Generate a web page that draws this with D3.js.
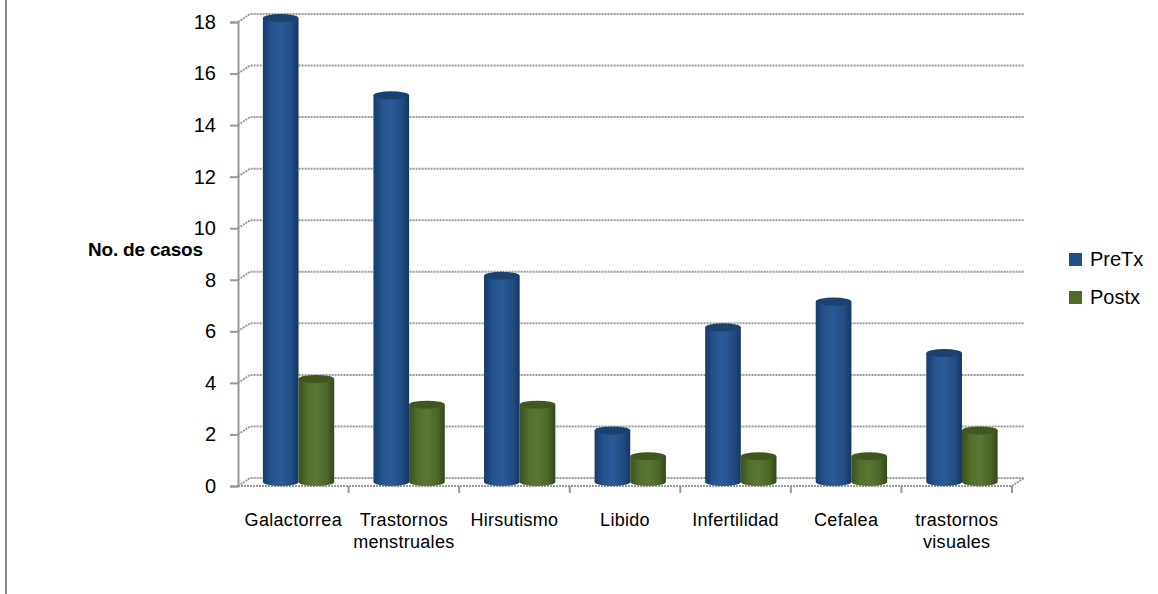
<!DOCTYPE html>
<html>
<head>
<meta charset="utf-8">
<script src="https://cdn.jsdelivr.net/npm/d3@7"></script>
<style>
  body { margin: 0; background: #fff; }
  text { font-family: "Liberation Sans", Arial, sans-serif; fill: #000; }
</style>
</head>
<body>
<div id="chart"></div>
<script>
// data
const categories = ["Galactorrea", "Trastornos menstruales", "Hirsutismo", "Libido", "Infertilidad", "Cefalea", "trastornos visuales"];
const series = ["PreTx", "Postx"];
const preTx = [18, 15, 8, 2, 6, 7, 5];
const postx = [4, 3, 3, 1, 1, 1, 2];
const yTicks = [0, 2, 4, 6, 8, 10, 12, 14, 16, 18];

// labels broken on two lines like the original
const catLines = {
    "Trastornos menstruales": ["Trastornos", "menstruales"],
    "trastornos visuales": ["trastornos", "visuales"]
};

const width = 1158, height = 594;
const depthX = 12, depthY = -8; // 3d offset of the back wall

const svg = d3.select("#chart").append("svg")
    .attr("width", width)
    .attr("height", height);

// gradients for the cylinders
const defs = svg.append("defs");
function cylGrad(id, stops) {
    const g = defs.append("linearGradient").attr("id", id)
        .attr("x1", "0%").attr("x2", "100%").attr("y1", "0%").attr("y2", "0%");
    stops.forEach(s => g.append("stop").attr("offset", s[0]).attr("stop-color", s[1]));
}
cylGrad("gBlue", [["0%", "#173a69"], ["25%", "#25548f"], ["50%", "#2a5b99"], ["80%", "#214c84"], ["100%", "#163562"]]);
cylGrad("gGreen", [["0%", "#3a5220"], ["25%", "#546f2c"], ["50%", "#5a7731"], ["80%", "#4c6628"], ["100%", "#33471b"]]);
const fills = { PreTx: "url(#gBlue)", Postx: "url(#gGreen)" };
const tops = { PreTx: "#1b416f", Postx: "#405820" };
const swatch = { PreTx: "#1f4e8a", Postx: "#4f6b2a" };

// left frame line
svg.append("line")
    .attr("x1", 6).attr("x2", 6).attr("y1", 0).attr("y2", height)
    .attr("stroke", "#8a8a8a").attr("stroke-width", 2);

const x = d3.scaleBand()
    .domain(categories)
    .range([238, 1012])
    .padding(0);

const sub = d3.scaleBand()
    .domain(series)
    .range([x.bandwidth() * 0.225, x.bandwidth() * 0.87]);

const y = d3.scaleLinear()
    .domain([0, 18])
    .range([486, 22]);

const x0 = x.range()[0], x1 = x.range()[1];

// back wall gridlines with the little diagonal on the side wall
const grid = svg.append("g").attr("class", "grid");
yTicks.forEach(t => {
    grid.append("path")
        .attr("d", `M${x0},${y(t)} L${x0 + depthX},${y(t) + depthY} L${x1 + depthX},${y(t) + depthY}`)
        .attr("fill", "none")
        .attr("stroke", "#999")
        .attr("stroke-width", 2)
        .attr("stroke-dasharray", "2,1");
});

// floor front edge + right diagonal
grid.append("path")
    .attr("d", `M${x0},${y(0)} L${x1},${y(0)} L${x1 + depthX},${y(0) + depthY}`)
    .attr("fill", "none")
    .attr("stroke", "#999")
    .attr("stroke-width", 2)
    .attr("stroke-dasharray", "2,1");

// category ticks on the floor
const catTicks = categories.map(c => x(c)).concat([x1]);
svg.append("g").selectAll("line")
    .data(catTicks.slice(1))
    .enter().append("line")
    .attr("x1", d => d).attr("x2", d => d)
    .attr("y1", y(0)).attr("y2", y(0) + 7)
    .attr("stroke", "#999").attr("stroke-width", 2);

// y axis
const yAxis = svg.append("g")
    .attr("transform", `translate(${x0},0)`)
    .call(d3.axisLeft(y).tickValues(yTicks).tickSize(8).tickPadding(14));
yAxis.select(".domain").attr("stroke", "#999").attr("stroke-width", 2);
yAxis.selectAll(".tick line").attr("stroke", "#999").attr("stroke-width", 2);
yAxis.selectAll(".tick text")
    .attr("font-size", 20)
    .attr("font-family", "Liberation Sans, Arial, sans-serif")
    .attr("fill", "#000");

// bars as cylinders
const rows = [];
categories.forEach((c, i) => {
    rows.push({ cat: c, s: "PreTx", v: preTx[i] });
    rows.push({ cat: c, s: "Postx", v: postx[i] });
});
const ry = 4, mid = depthY / 2;

const bar = svg.append("g").selectAll(".bar")
    .data(rows)
    .enter().append("g")
    .attr("class", "bar");

bar.append("path")
    .attr("d", d => {
        const bx = x(d.cat) + sub(d.s), w = sub.bandwidth();
        const top = y(d.v) + mid, bot = y(0) + mid;
        return `M${bx},${top} L${bx},${bot} A${w / 2},${ry} 0 0 0 ${bx + w},${bot} L${bx + w},${top} Z`;
    })
    .attr("fill", d => fills[d.s]);

bar.append("ellipse")
    .attr("cx", d => x(d.cat) + sub(d.s) + sub.bandwidth() / 2)
    .attr("cy", d => y(d.v) + mid)
    .attr("rx", sub.bandwidth() / 2)
    .attr("ry", ry)
    .attr("fill", d => tops[d.s]);

// category labels
const lab = svg.append("g").selectAll(".cat")
    .data(categories)
    .enter().append("text")
    .attr("class", "cat")
    .attr("text-anchor", "middle")
    .attr("font-size", 18)
    .attr("letter-spacing", 0.3)
    .attr("x", d => x(d) + x.bandwidth() / 2)
    .attr("y", 526);
lab.each(function (d) {
    const lines = catLines[d] || [d];
    const el = d3.select(this);
    lines.forEach((l, i) => {
        el.append("tspan")
            .attr("x", x(d) + x.bandwidth() / 2)
            .attr("dy", i === 0 ? 0 : 22)
            .text(l);
    });
});

// y title
svg.append("text")
    .attr("x", 88).attr("y", 256)
    .attr("font-size", 19)
    .attr("font-weight", "bold")
    .attr("letter-spacing", -0.2)
    .text("No. de casos");

// legend
const leg = svg.append("g").selectAll(".leg")
    .data(series)
    .enter().append("g")
    .attr("transform", (d, i) => `translate(1069,${253 + i * 38})`);
leg.append("rect")
    .attr("width", 13).attr("height", 13)
    .attr("fill", d => swatch[d]);
leg.append("text")
    .attr("x", 21).attr("y", 13)
    .attr("font-size", 20)
    .text(d => d);
</script>
</body>
</html>
